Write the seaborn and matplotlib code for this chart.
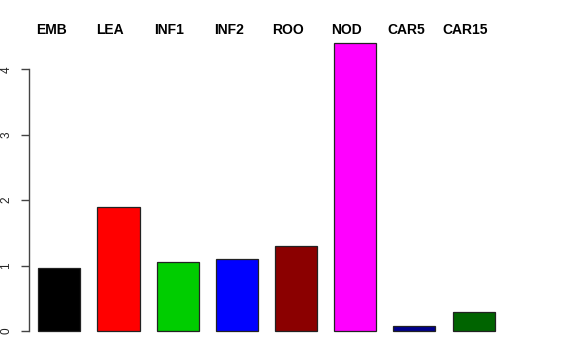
import seaborn as sns
import pandas as pd
import matplotlib
matplotlib.use("Agg")
import matplotlib.pyplot as plt

# Tissues and values
tissues = ["EMB", "LEA", "INF1", "INF2", "ROO", "NOD", "CAR5", "CAR15"]
values = [0.96, 1.90, 1.05, 1.10, 1.30, 4.40, 0.07, 0.29]
colors = ["#000000", "#FF0000", "#00CD00", "#0000FF", "#8B0000", "#FF00FF", "#00008B", "#006400"]
yticks = [0, 1, 2, 3, 4]

df = pd.DataFrame({"Tissue": tissues, "Value": values})

sns.set_style("white")
plt.rcParams['font.family'] = ['Liberation Sans', 'DejaVu Sans']
plt.rcParams['text.color'] = 'black'
plt.rcParams['ytick.labelcolor'] = 'black'

fig = plt.figure(figsize=(5.76, 3.6), dpi=100)
ax = fig.add_axes([29 / 576, 24 / 360, 518 / 576, 296 / 360])

sns.barplot(
    data=df, x="Tissue", y="Value", hue="Tissue", palette=colors,
    legend=False, width=0.71, edgecolor="#222222", linewidth=0.9,
    saturation=1, ax=ax
)

ax.set_xlim(-0.512, 8.24)
ax.set_ylim(-0.0765, 4.45)

# tissue names above each bar column
for i, name in enumerate(tissues):
    ax.text(i - 0.14, 1.0 + 9.5 / 296, name, transform=ax.get_xaxis_transform(),
            ha="center", va="center", fontsize=10, fontweight="bold", color="black")

# R style axis: only left axis, spanning tick range
for side in ["top", "right", "bottom"]:
    ax.spines[side].set_visible(False)
ax.spines["left"].set_bounds(0, 4)
ax.spines["left"].set_color("#444444")
ax.spines["left"].set_linewidth(1.0)
ax.set_yticks(yticks)
ax.set_yticklabels([str(v) for v in yticks], rotation=90, va="center", fontsize=8.5, color="#222222")
ax.tick_params(axis="y", left=True, length=6, width=1.0, color="#444444", pad=6)
ax.set_xticks([])
ax.set_xlabel("")
ax.set_ylabel("")

fig.savefig("out.png", dpi=100)
